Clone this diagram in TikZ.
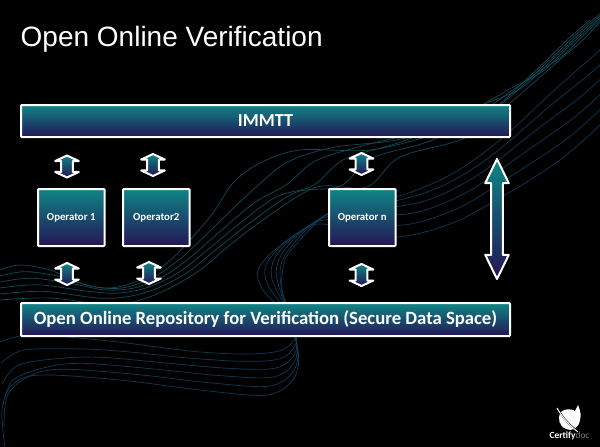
\documentclass[tikz,border=0pt]{standalone}
\usepackage{fontspec}
\setmainfont{Carlito}
\newfontfamily\titlefont{Liberation Sans}
\usetikzlibrary{shapes.arrows}
\definecolor{tealtop}{HTML}{0F8585}
\definecolor{navybot}{HTML}{241555}
\definecolor{curveA}{HTML}{114A58}
\definecolor{curveC}{HTML}{0F3A55}
\tikzset{
  gradbox/.style={draw=white,line width=2pt,rounded corners=0.8pt,top color=tealtop,bottom color=navybot,
    text=white,font=\bfseries,inner sep=0pt,anchor=north west},
  barbox/.style={gradbox,minimum width=489pt,minimum height=32pt},
  opbox/.style={gradbox,minimum width=66.5pt,minimum height=57pt,font=\bfseries\fontsize{10.8}{12}\selectfont},
  smallarrow/.style={shape=double arrow,shape border rotate=90,draw=white,line width=2pt,line join=round,
    top color=tealtop,bottom color=navybot,inner sep=4.8pt,minimum height=22pt,minimum width=0pt,
    double arrow head extend=6pt,double arrow tip angle=130},
  bigarrow/.style={smallarrow,minimum height=120pt,double arrow tip angle=52},
  bgline/.style={line width=0.7pt}
}
% interpolated family of curves: #1 colour, #2 list of t values, #3 x0/y0/x1/y1 list
\newcommand{\curvefamily}[3]{%
  \foreach \tv in {#2}{%
    \gdef\acc{}%
    \foreach \xa/\ya/\xb/\yb in {#3}{%
      \pgfmathsetmacro\xx{\xa+\tv*(\xb-\xa)}%
      \pgfmathsetmacro\yy{\ya+\tv*(\yb-\ya)}%
      \xdef\acc{\acc(\xx,\yy)}%
    }%
    \edef\doit{\noexpand\draw[bgline,#1] plot[smooth,tension=0.55] coordinates {\acc};}%
    \doit
  }%
}
\begin{document}
\begin{tikzpicture}[x=1pt,y=-1pt]
\useasboundingbox (0,0) rectangle (600,447);
\fill[black] (0,0) rectangle (600,447);
\begin{scope}
\clip (0,0) rectangle (600,447);
\curvefamily{curveA}{0,0.2,0.4,0.6,0.8,1}{
 0/270/0/300, 20/265/50/298, 50/270/110/305, 80/283/140/300, 110/288/170/288, 140/280/200/270,
 167/263/230/245, 190/240/267/217, 213/213/317/187, 233/183/367/187, 260/163/400/157,
 300/150/467/137, 370/150/517/97, 433/135/563/57, 480/120/583/40, 533/73/600/22, 567/40/620/5, 590/20/640/-10}
\curvefamily{curveC}{0,0.2,0.4,0.6,0.8,1}{
 5/447/0/342, 2/410/30/335, 12/385/100/340, 40/375/150/346, 120/380/200/352, 200/390/250/354,
 267/395/282/350, 294/378/296/336, 298/350/292/315, 285/315/282/290, 263/290/285/260, 258/270/300/240,
 277/248/322/218, 313/225/345/205, 345/228/396/197, 396/237/450/175, 450/224/500/140, 500/198/560/85, 560/160/600/50, 600/125/630/20}
\end{scope}

\node[font=\titlefont\fontsize{28}{30}\selectfont,text=white,anchor=base west,inner sep=0pt] (title) at (20.5,46) {Open Online Verification};

\node[barbox,font=\bfseries\fontsize{18.3}{20}\selectfont] (immtt) at (20,104) {IMMTT};
\node[barbox,minimum height=33pt,font=\bfseries\fontsize{18.7}{21}\selectfont] (repo) at (20,302) {Open Online Repository for Verification (Secure Data Space)};

\node[opbox] (op1) at (37,188) {Operator 1};
\node[opbox] (op2) at (122,188) {Operator2};
\node[opbox] (opn) at (328,188) {Operator n};

\node[smallarrow] (a1) at (67,166.5) {};
\node[smallarrow] (a2) at (153,165) {};
\node[smallarrow] (a3) at (361.5,164) {};
\node[smallarrow] (b1) at (67,274) {};
\node[smallarrow] (b2) at (149,273) {};
\node[smallarrow] (b3) at (361.5,275) {};
\node[bigarrow] (big) at (497,219) {};

% logo
\fill[white] (578,405) .. controls (581,412) and (581,416) .. (580,420)
  .. controls (579,428) and (572,432) .. (566,429)
  .. controls (559,426) and (557,418) .. (561,412)
  .. controls (565,408) and (572,409) .. (575,411) -- cycle;
\draw[black,line width=1.6pt] (558,409) .. controls (563,418) and (570,426) .. (578,431);
\draw[white,line width=1pt] (557,408) .. controls (562,417) and (570,426) .. (578,432);
\node[inner sep=0pt,font=\fontsize{9.4}{10}\selectfont,text=white,anchor=center] (logotext) at (569.5,436)
  {\textbf{Certify}\textcolor{gray}{doc}};
\end{tikzpicture}
\end{document}
